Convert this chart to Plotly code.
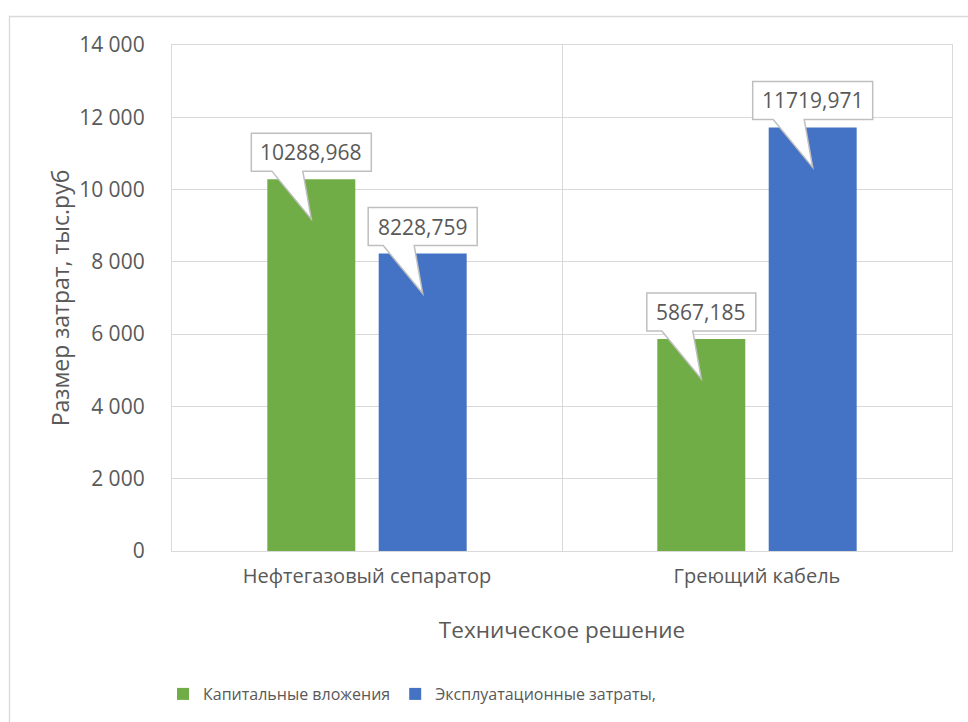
import plotly.graph_objects as go

# Cost comparison of two technical solutions (thousand rubles)
categories = ["Нефтегазовый сепаратор", "Греющий кабель"]
capital = [10288.968, 5867.185]
operating = [8228.759, 11719.971]
series_names = ["Капитальные вложения", "Эксплуатационные затраты,"]
y_ticks = [0, 2000, 4000, 6000, 8000, 10000, 12000, 14000]

GREEN = "#70AD47"
BLUE = "#4472C4"
TEXT = "#595959"
GRID = "#D9D9D9"
FONT = "Open Sans"

BAR_W = 0.2256
OFFSETS = [-0.2556, 0.0300]

fig = go.Figure()
for name, vals, color, off in [
    (series_names[0], capital, GREEN, OFFSETS[0]),
    (series_names[1], operating, BLUE, OFFSETS[1]),
]:
    fig.add_trace(go.Bar(
        x=categories, y=vals, name=name, marker_color=color,
        marker_line_width=0, width=BAR_W, offset=off,
    ))


def fmt(v):
    return f"{v:.3f}".replace(".", ",")


# Callout labels: white box with a wedge pointing into the bar
for vals, off in [(capital, OFFSETS[0]), (operating, OFFSETS[1])]:
    for i, v in enumerate(vals):
        xc = i + off + BAR_W / 2
        txt = fmt(v)
        w = 11 * len(txt) + 21
        hw = w / 2
        path = (f"M {-hw},46 L {hw},46 L {hw},8 L -8.5,8 L 0,-40 "
                f"L -39.5,8 L {-hw},8 Z")
        fig.add_shape(
            type="path", xref="x", yref="y",
            xsizemode="pixel", ysizemode="pixel",
            xanchor=xc, yanchor=v, path=path,
            fillcolor="white", line=dict(color="#BFBFBF", width=1.5),
            layer="above",
        )
        fig.add_annotation(
            x=xc, y=v, xref="x", yref="y", text=txt, showarrow=False,
            yshift=27, font=dict(family=FONT, size=21, color=TEXT),
        )

# Outer chart-area frame
fig.add_shape(
    type="rect", xref="paper", yref="paper",
    x0=(9.5 - 172) / 780, x1=(990 - 172) / 780,
    y0=(551 - 740) / 506, y1=(551 - 16.5) / 506,
    line=dict(color=GRID, width=1.3), fillcolor="rgba(0,0,0,0)", layer="below",
)

fig.update_layout(
    width=968, height=722,
    margin=dict(l=172, r=16, t=45, b=171, autoexpand=False),
    paper_bgcolor="white", plot_bgcolor="white",
    separators=", ",
    font=dict(family=FONT, color=TEXT),
    barmode="group",
    showlegend=True,
    legend=dict(
        orientation="h", x=(163 - 172) / 780, y=(551 - 677) / 506,
        xanchor="left", yanchor="top",
        font=dict(family=FONT, size=16, color=TEXT),
        bgcolor="rgba(0,0,0,0)",
    ),
)

fig.update_xaxes(
    type="category", range=[-0.5, 1.5],
    tickson="boundaries", ticks="", showgrid=True, gridcolor=GRID, gridwidth=1.3,
    showline=True, mirror=True, linecolor=GRID, linewidth=1.3,
    ticklabelstandoff=7,
    tickfont=dict(family=FONT, size=20, color=TEXT),
    title=dict(text="Техническое решение", font=dict(family=FONT, size=22.5, color=TEXT),
               standoff=34),
    automargin=False,
)
fig.update_yaxes(
    range=[0, 14000], tickvals=y_ticks, tickformat=",d",
    showgrid=True, gridcolor=GRID, gridwidth=1.3, zeroline=False,
    showline=True, mirror=True, linecolor=GRID, linewidth=1.3,
    ticks="", ticklabelstandoff=22,
    tickfont=dict(family=FONT, size=21, color=TEXT),
    title=dict(text="Размер затрат, тыс.руб", font=dict(family=FONT, size=23, color=TEXT),
               standoff=3),
    automargin=False,
)

fig.write_html("out.html")
